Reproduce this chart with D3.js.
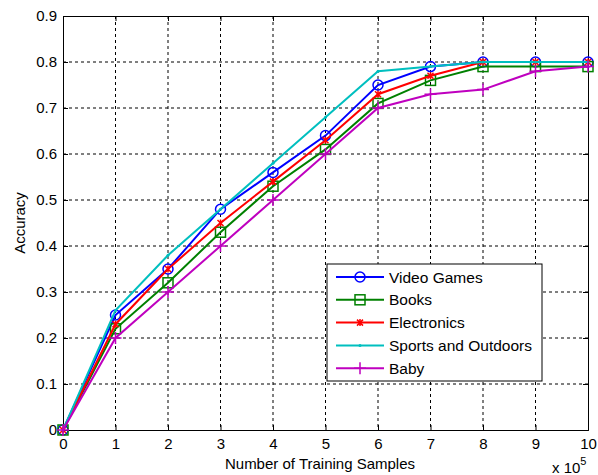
<!DOCTYPE html>
<html>
<head>
<meta charset="utf-8">
<script src="https://cdn.jsdelivr.net/npm/d3@7"></script>
<style>
  html, body { margin: 0; padding: 0; background: #fff; overflow: hidden; }
  svg { display: block; font-family: "Liberation Sans", Arial, sans-serif; }
</style>
</head>
<body>
<div id="chart"></div>
<script>
const samples = [0, 1, 2, 3, 4, 5, 6, 7, 8, 9, 10];
const videoGames = [0, 0.25, 0.35, 0.48, 0.56, 0.64, 0.75, 0.79, 0.80, 0.80, 0.80];
const books = [0, 0.22, 0.32, 0.43, 0.53, 0.61, 0.71, 0.76, 0.79, 0.79, 0.79];
const electronics = [0, 0.23, 0.35, 0.45, 0.54, 0.63, 0.73, 0.77, 0.80, 0.80, 0.80];
const sports = [0, 0.26, 0.38, 0.48, 0.58, 0.68, 0.78, 0.79, 0.80, 0.80, 0.80];
const baby = [0, 0.20, 0.30, 0.40, 0.50, 0.60, 0.70, 0.73, 0.74, 0.78, 0.79];
const yTicks = [0, 0.1, 0.2, 0.3, 0.4, 0.5, 0.6, 0.7, 0.8, 0.9];

const series = [
  { name: 'Video Games', values: videoGames, color: '#0000ff', marker: 'circle' },
  { name: 'Books', values: books, color: '#008000', marker: 'square' },
  { name: 'Electronics', values: electronics, color: '#ff0000', marker: 'star' },
  { name: 'Sports and Outdoors', values: sports, color: '#00bfbf', marker: 'point' },
  { name: 'Baby', values: baby, color: '#bf00bf', marker: 'plus' },
];

const width = 598;
const height = 475;
const margin = { top: 16, right: 10, bottom: 45, left: 63 };
const innerWidth = width - margin.left - margin.right;
const innerHeight = height - margin.top - margin.bottom;
const fontSize = '15px';

const svg = d3.select('#chart')
  .append('svg')
  .attr('width', width)
  .attr('height', height);

const g = svg.append('g')
  .attr('transform', `translate(${margin.left},${margin.top})`);

const x = d3.scaleLinear().domain([0, 10]).range([0, innerWidth]);
const y = d3.scaleLinear().domain([0, 0.9]).range([innerHeight, 0]);

// dashed grid
g.append('g')
  .selectAll('line')
  .data(samples.slice(1, -1))
  .enter()
  .append('line')
  .attr('x1', (d) => x(d))
  .attr('x2', (d) => x(d))
  .attr('y1', 0)
  .attr('y2', innerHeight)
  .style('stroke', '#000')
  .style('stroke-width', 1)
  .style('stroke-dasharray', '3,3');

g.append('g')
  .selectAll('line')
  .data(yTicks.slice(1, -1))
  .enter()
  .append('line')
  .attr('x1', 0)
  .attr('x2', innerWidth)
  .attr('y1', (d) => y(d))
  .attr('y2', (d) => y(d))
  .style('stroke', '#000')
  .style('stroke-width', 1)
  .style('stroke-dasharray', '3,3');

// axes, matlab style: ticks pointing inward
const xAxis = g.append('g')
  .attr('transform', `translate(0,${innerHeight})`)
  .call(d3.axisBottom(x).tickValues(samples).tickSize(-5).tickPadding(8).tickFormat(d3.format('d')));
const xAxisTop = g.append('g')
  .call(d3.axisTop(x).tickValues(samples).tickSize(-5).tickFormat(''));
const yAxis = g.append('g')
  .call(d3.axisLeft(y).tickValues(yTicks).tickSize(-5).tickPadding(6)
    .tickFormat((d) => (d === 0 ? '0' : d3.format('.1f')(d))));
const yAxisRight = g.append('g')
  .attr('transform', `translate(${innerWidth},0)`)
  .call(d3.axisRight(y).tickValues(yTicks).tickSize(-5).tickFormat(''));

// the mirrored axes only need their tick marks
xAxisTop.selectAll('text').remove();
yAxisRight.selectAll('text').remove();

[xAxis, xAxisTop, yAxis, yAxisRight].forEach((a) => {
  a.select('.domain').style('stroke', '#000').style('stroke-width', 1);
  a.selectAll('.tick line').style('stroke', '#000');
  a.selectAll('text')
    .style('font-size', fontSize)
    .style('fill', '#000')
    .style('font-family', '"Liberation Sans", Arial, sans-serif');
});

// lines
const line = d3.line()
  .x((d, i) => x(samples[i]))
  .y((d) => y(d));

function drawMarker(sel, type, color) {
  if (type === 'circle') {
    sel.append('circle').attr('r', 5)
      .style('fill', 'none').style('stroke', color).style('stroke-width', 1.5);
  } else if (type === 'square') {
    sel.append('rect').attr('x', -5).attr('y', -5).attr('width', 10).attr('height', 10)
      .style('fill', 'none').style('stroke', color).style('stroke-width', 1.5);
  } else if (type === 'star') {
    sel.append('path').attr('d', 'M-3,-3L3,3M-3,3L3,-3M0,-3.5L0,3.5')
      .style('stroke', color).style('stroke-width', 1.5);
  } else if (type === 'point') {
    sel.append('circle').attr('r', 1.5).style('fill', color);
  } else if (type === 'plus') {
    sel.append('path').attr('d', 'M-6,0L6,0M0,-6L0,6')
      .style('stroke', color).style('stroke-width', 1.5);
  }
}

series.forEach((s) => {
  g.append('path')
    .datum(s.values)
    .attr('d', line)
    .style('fill', 'none')
    .style('stroke', s.color)
    .style('stroke-width', 2);

  g.append('g')
    .selectAll('g')
    .data(s.values)
    .enter()
    .append('g')
    .attr('transform', (d, i) => `translate(${x(samples[i])},${y(d)})`)
    .each(function () { drawMarker(d3.select(this), s.marker, s.color); });
});

// legend
const legend = svg.append('g').attr('transform', 'translate(327,264)');
legend.append('rect')
  .attr('width', 215)
  .attr('height', 117)
  .style('fill', '#fff')
  .style('stroke', '#000')
  .style('stroke-width', 1);

series.forEach((s, i) => {
  const row = legend.append('g').attr('transform', `translate(0,${13 + i * 22.8})`);
  row.append('line')
    .attr('x1', 9).attr('x2', 57)
    .style('stroke', s.color).style('stroke-width', 2);
  const m = row.append('g').attr('transform', 'translate(33,0)');
  drawMarker(m, s.marker, s.color);
  row.append('text')
    .attr('x', 62)
    .attr('y', 5.5)
    .style('font-size', '15.5px')
    .style('fill', '#000')
    .text(s.name);
});

// axis labels
svg.append('text')
  .attr('x', 320)
  .attr('y', 469)
  .attr('text-anchor', 'middle')
  .style('font-size', fontSize)
  .text('Number of Training Samples');

svg.append('text')
  .attr('transform', `translate(25,${margin.top + innerHeight / 2}) rotate(-90)`)
  .attr('text-anchor', 'middle')
  .style('font-size', fontSize)
  .text('Accuracy');

const expo = svg.append('text')
  .attr('x', 552)
  .attr('y', 473)
  .style('font-size', fontSize);
expo.append('tspan').text('x 10');
expo.append('tspan').attr('dy', -8).style('font-size', '11px').text('5');
</script>
</body>
</html>
